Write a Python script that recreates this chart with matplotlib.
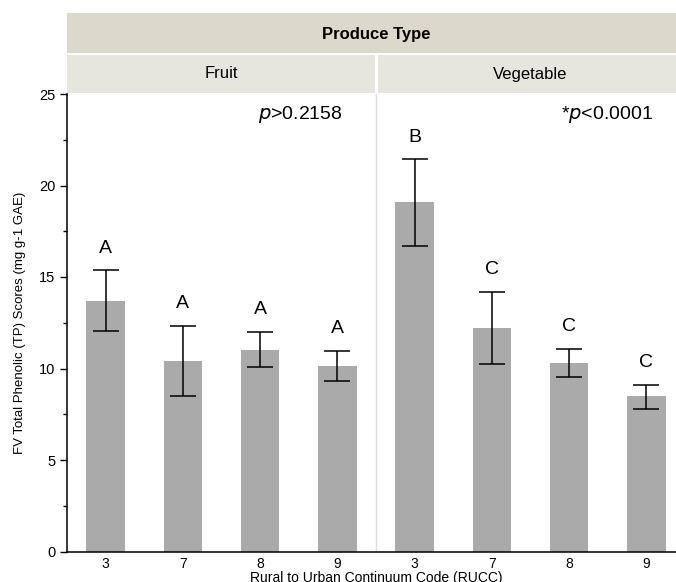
import numpy as np
import matplotlib
matplotlib.use("Agg")
import matplotlib.pyplot as plt
from matplotlib.patches import Rectangle

plt.rcParams['font.family'] = ['Liberation Sans', 'DejaVu Sans']

# data
groups = ['Fruit', 'Vegetable']
rucc = ['3', '7', '8', '9']
means = {'Fruit': [13.70, 10.42, 11.02, 10.15],
         'Vegetable': [19.08, 12.23, 10.31, 8.51]}
err_low = {'Fruit': [12.05, 8.51, 10.06, 9.29],
           'Vegetable': [16.70, 10.24, 9.53, 7.81]}
err_high = {'Fruit': [15.36, 12.34, 11.99, 10.95],
            'Vegetable': [21.43, 14.20, 11.08, 9.12]}
letters = {'Fruit': ['A', 'A', 'A', 'A'],
           'Vegetable': ['B', 'C', 'C', 'C']}
pvals = {'Fruit': r'$\it{p}$>0.2158', 'Vegetable': r'*$\it{p}$<0.0001'}

W, H = 676, 582
fig = plt.figure(figsize=(W / 100, H / 100), dpi=100)

left, right, bottom, top = 67, 685, 551.5, 94
ax = fig.add_axes([left / W, 1 - bottom / H, (right - left) / W, (bottom - top) / H])

xs, ys, lo, hi, labs = [], [], [], [], []
for g_i, g in enumerate(groups):
    for r_i in range(len(rucc)):
        xs.append(g_i * len(rucc) + r_i)
        ys.append(means[g][r_i])
        lo.append(means[g][r_i] - err_low[g][r_i])
        hi.append(err_high[g][r_i] - means[g][r_i])
        labs.append(letters[g][r_i])

xs = np.array(xs)
ax.bar(xs, ys, width=0.5, color='#aaaaaa', zorder=2)
ax.errorbar(xs, ys, yerr=[lo, hi], fmt='none', ecolor='black', elinewidth=1.1,
            capsize=9.5, capthick=1.1, zorder=3)
for x, y, h, t in zip(xs, ys, hi, labs):
    ax.annotate(t, (x, y + h), xytext=(0, 16), textcoords='offset points',
                ha='center', va='center', fontsize=14)

ax.axvline(3.5, color='#dddddd', lw=1, zorder=1)
ax.text(3.07, 23.9, pvals['Fruit'], ha='right', va='center', fontsize=14)
ax.text(7.09, 23.9, pvals['Vegetable'], ha='right', va='center', fontsize=14)

ax.set_xlim(-0.5, 7.5)
ax.set_ylim(0, 25)
ax.set_xticks(xs)
ax.set_xticklabels(rucc * 2, fontsize=10)
ax.set_yticks([0, 5, 10, 15, 20, 25])
ax.set_yticks(np.arange(2.5, 25, 5), minor=True)
ax.tick_params(axis='y', which='major', length=5, labelsize=10.5, width=1)
ax.tick_params(axis='y', which='minor', length=3, width=1)
ax.tick_params(axis='x', length=0, pad=4)
for s in ['top', 'right']:
    ax.spines[s].set_visible(False)
ax.spines['left'].set_linewidth(1.1)
ax.spines['bottom'].set_linewidth(1.1)
ax.set_ylabel('FV Total Phenolic (TP) Scores (mg g-1 GAE)', fontsize=9.5, labelpad=9)
ax.set_xlabel('Rural to Urban Continuum Code (RUCC)', fontsize=10, labelpad=0)

# facet header bands
def fig_rect(x0, y0, x1, y1, color):
    fig.patches.append(Rectangle((x0 / W, 1 - y1 / H), (x1 - x0) / W, (y1 - y0) / H,
                                 transform=fig.transFigure, facecolor=color,
                                 edgecolor='none', zorder=0))

fig_rect(left, 13, right, 53, '#dcd9cc')
fig_rect(left, 55, 375, 93, '#e7e6de')
fig_rect(378, 55, right, 93, '#e7e6de')
fig.text((left + right) / 2 / W, 1 - 34 / H, 'Produce Type', ha='center', va='center',
         fontsize=12, fontweight='bold')
fig.text(221 / W, 1 - 74 / H, groups[0], ha='center', va='center', fontsize=12)
fig.text(530 / W, 1 - 74 / H, groups[1], ha='center', va='center', fontsize=12)

fig.savefig('out.png', dpi=100)
